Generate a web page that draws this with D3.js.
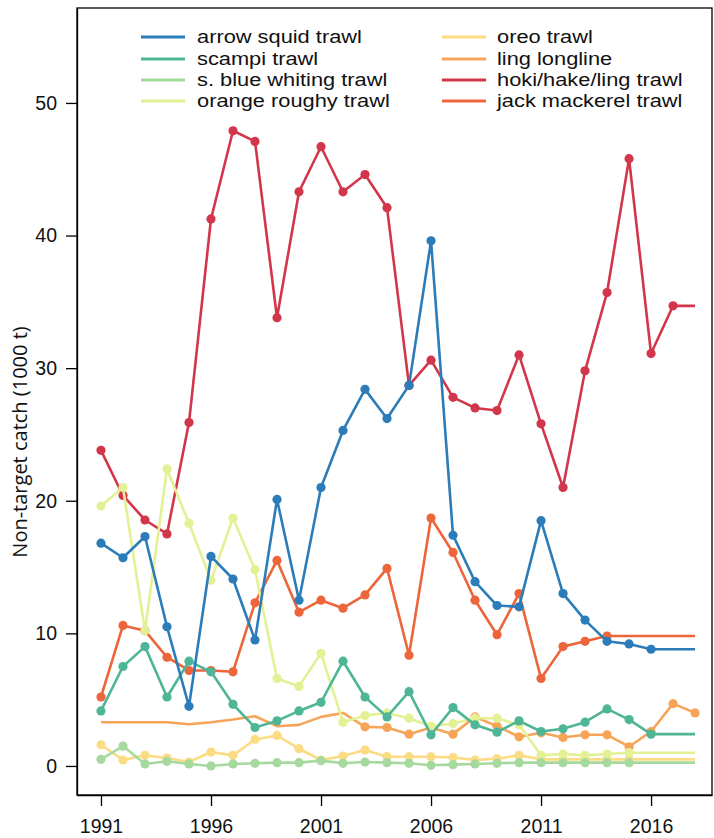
<!DOCTYPE html>
<html>
<head>
<meta charset="utf-8">
<script src="https://cdn.jsdelivr.net/npm/d3@7"></script>
<style>
  html, body { margin: 0; padding: 0; background: #fff; }
  svg { display: block; }
</style>
</head>
<body>
<svg id="chart" width="714" height="838"></svg>
<script>
// ---------------- data ----------------
const years = [1991, 1992, 1993, 1994, 1995, 1996, 1997, 1998, 1999, 2000,
               2001, 2002, 2003, 2004, 2005, 2006, 2007, 2008, 2009, 2010,
               2011, 2012, 2013, 2014, 2015, 2016, 2017, 2018];
const xTickYears = [1991, 1996, 2001, 2006, 2011, 2016];
const yTickValues = [0, 10, 20, 30, 40, 50];
const seriesNames = ["arrow squid trawl", "scampi trawl", "s. blue whiting trawl", "orange roughy trawl",
                     "oreo trawl", "ling longline", "hoki/hake/ling trawl", "jack mackerel trawl"];

// values from 1991 onward (last observed year = 1991 + length - 1)
const arrowSquid = [16.8, 15.7, 17.3, 10.5, 4.5, 15.8, 14.1, 9.5, 20.1, 12.5,
                    21.0, 25.3, 28.4, 26.2, 28.7, 39.6, 17.4, 13.9, 12.1, 12.0,
                    18.5, 13.0, 11.0, 9.4, 9.2, 8.8];
const scampi = [4.15, 7.5, 9.0, 5.2, 7.9, 7.1, 4.65, 2.9, 3.4, 4.15,
                4.8, 7.9, 5.2, 3.7, 5.6, 2.35, 4.4, 3.1, 2.55, 3.4,
                2.6, 2.8, 3.3, 4.3, 3.5, 2.4];
const blueWhiting = [0.5, 1.5, 0.15, 0.35, 0.15, 0.0, 0.15, 0.2, 0.25, 0.25,
                     0.4, 0.2, 0.3, 0.25, 0.2, 0.05, 0.1, 0.15, 0.2, 0.25,
                     0.25, 0.25, 0.25, 0.25, 0.25];
const orangeRoughy = [19.6, 21.0, 10.2, 22.4, 18.3, 14.0, 18.7, 14.8, 6.6, 6.0,
                      8.5, 3.3, 3.8, 4.0, 3.6, 3.0, 3.2, 3.6, 3.6, 3.1,
                      0.8, 0.9, 0.8, 0.9, 1.0];
const oreo = [1.6, 0.45, 0.8, 0.6, 0.3, 1.05, 0.8, 2.0, 2.3, 1.3,
              0.45, 0.75, 1.2, 0.7, 0.7, 0.7, 0.65, 0.45, 0.55, 0.8,
              0.5, 0.5, 0.5, 0.5, 0.5];
const lingLongline = [3.3, 3.3, 3.3, 3.3, 3.15, 3.3, 3.5, 3.75, 3.0, 3.1,
                      3.7, 4.0, 2.95, 2.9, 2.4, 2.9, 2.4, 3.7, 3.0, 2.2,
                      2.5, 2.15, 2.35, 2.35, 1.45, 2.6, 4.7, 4.0];
const hokiHakeLing = [23.8, 20.4, 18.55, 17.5, 25.9, 41.25, 47.9, 47.1, 33.8, 43.3,
                      46.7, 43.3, 44.6, 42.1, 28.7, 30.6, 27.8, 27.0, 26.8, 31.0,
                      25.8, 21.0, 29.8, 35.7, 45.8, 31.1, 34.7];
const jackMackerel = [5.2, 10.6, 10.2, 8.2, 7.2, 7.2, 7.1, 12.3, 15.5, 11.6,
                      12.5, 11.9, 12.9, 14.9, 8.35, 18.7, 16.1, 12.5, 9.9, 13.0,
                      6.6, 9.0, 9.4, 9.8];
// first year for which points are plotted (earlier years drawn as line only)
const firstMarkedYear = [1991, 1991, 1991, 1991, 1991, 2003, 1991, 1991];

const seriesValues = [arrowSquid, scampi, blueWhiting, orangeRoughy, oreo, lingLongline, hokiHakeLing, jackMackerel];
const colors = ["#2b7cb8", "#4fb597", "#a6d99e", "#e3f094", "#fbdc84", "#f6a558", "#d2364b", "#ec653b"];

// ---------------- layout ----------------
const plot = { left: 77, right: 712, top: 8, bottom: 795 };

const x = d3.scaleLinear().domain([1989.91, 2018.77]).range([plot.left, plot.right]);
const y = d3.scaleLinear().domain([-2.19, 57.16]).range([plot.bottom, plot.top]);

const svg = d3.select("#chart");

// frame
svg.append("rect")
  .attr("x", plot.left).attr("y", plot.top)
  .attr("width", plot.right - plot.left).attr("height", plot.bottom - plot.top)
  .attr("fill", "#fff").attr("stroke", "#000").attr("stroke-width", 1.3);

// axes
const xAxis = svg.append("g")
  .attr("transform", `translate(0,${plot.bottom})`)
  .call(d3.axisBottom(x).tickValues(xTickYears).tickFormat(d3.format("d"))
        .tickSize(11).tickSizeOuter(0).tickPadding(13));
const yAxis = svg.append("g")
  .attr("transform", `translate(${plot.left},0)`)
  .call(d3.axisLeft(y).tickValues(yTickValues).tickSize(11).tickSizeOuter(0).tickPadding(9));

[xAxis, yAxis].forEach(g => {
  g.select(".domain").attr("stroke", "#000").attr("stroke-width", 1.3);
  g.selectAll(".tick line").attr("stroke", "#000").attr("stroke-width", 1.3);
  g.selectAll(".tick text")
    .attr("fill", "#111")
    .style("font-family", "'Liberation Sans', Arial, sans-serif")
    .style("font-size", "19.5px");
});

// y title
svg.append("text")
  .attr("transform", `translate(27,442) rotate(-90)`)
  .attr("text-anchor", "middle")
  .style("font-family", "'Open Sans', 'Noto Sans', sans-serif")
  .style("font-size", "20px")
  .attr("fill", "#111")
  .text("Non-target catch (1000 t)");

// series
const lastYear = years[years.length - 1];
const line = d3.line().x(d => x(d.year)).y(d => y(d.value));

const seriesData = seriesNames.map((name, i) => {
  const vals = seriesValues[i];
  const pts = vals.map((v, j) => ({ year: years[j], value: v }));
  const lastPt = pts[pts.length - 1];
  const path = pts.slice();
  if (lastPt.year < lastYear) path.push({ year: lastYear, value: lastPt.value });
  return { name, color: colors[i], pts: pts.filter(p => p.year >= firstMarkedYear[i]), path };
});

const gSeries = svg.append("g");
seriesData.slice().reverse().forEach(s => {
  const g = gSeries.append("g");
  g.append("path")
    .attr("d", line(s.path))
    .attr("fill", "none")
    .attr("stroke", s.color)
    .attr("stroke-width", 2.6)
    .attr("stroke-linejoin", "round");
  g.selectAll("circle").data(s.pts).join("circle")
    .attr("cx", d => x(d.year))
    .attr("cy", d => y(d.value))
    .attr("r", 4.6)
    .attr("fill", s.color);
});

// legend
const legend = svg.append("g");
const legCols = [{ lx: 141, tx: 197 }, { lx: 442, tx: 497 }];
const legRowY = [37, 59, 80, 101];
seriesData.forEach((s, i) => {
  const col = legCols[Math.floor(i / 4)];
  const ry = legRowY[i % 4];
  legend.append("line")
    .attr("x1", col.lx).attr("x2", col.lx + 44)
    .attr("y1", ry).attr("y2", ry)
    .attr("stroke", s.color).attr("stroke-width", 3);
  legend.append("text")
    .attr("transform", `translate(${col.tx},${ry + 6}) scale(1.18,1)`)
    .style("font-family", "'Liberation Sans', Arial, sans-serif")
    .style("font-size", "18.5px")
    .attr("fill", "#111")
    .text(s.name);
});
</script>
</body>
</html>
